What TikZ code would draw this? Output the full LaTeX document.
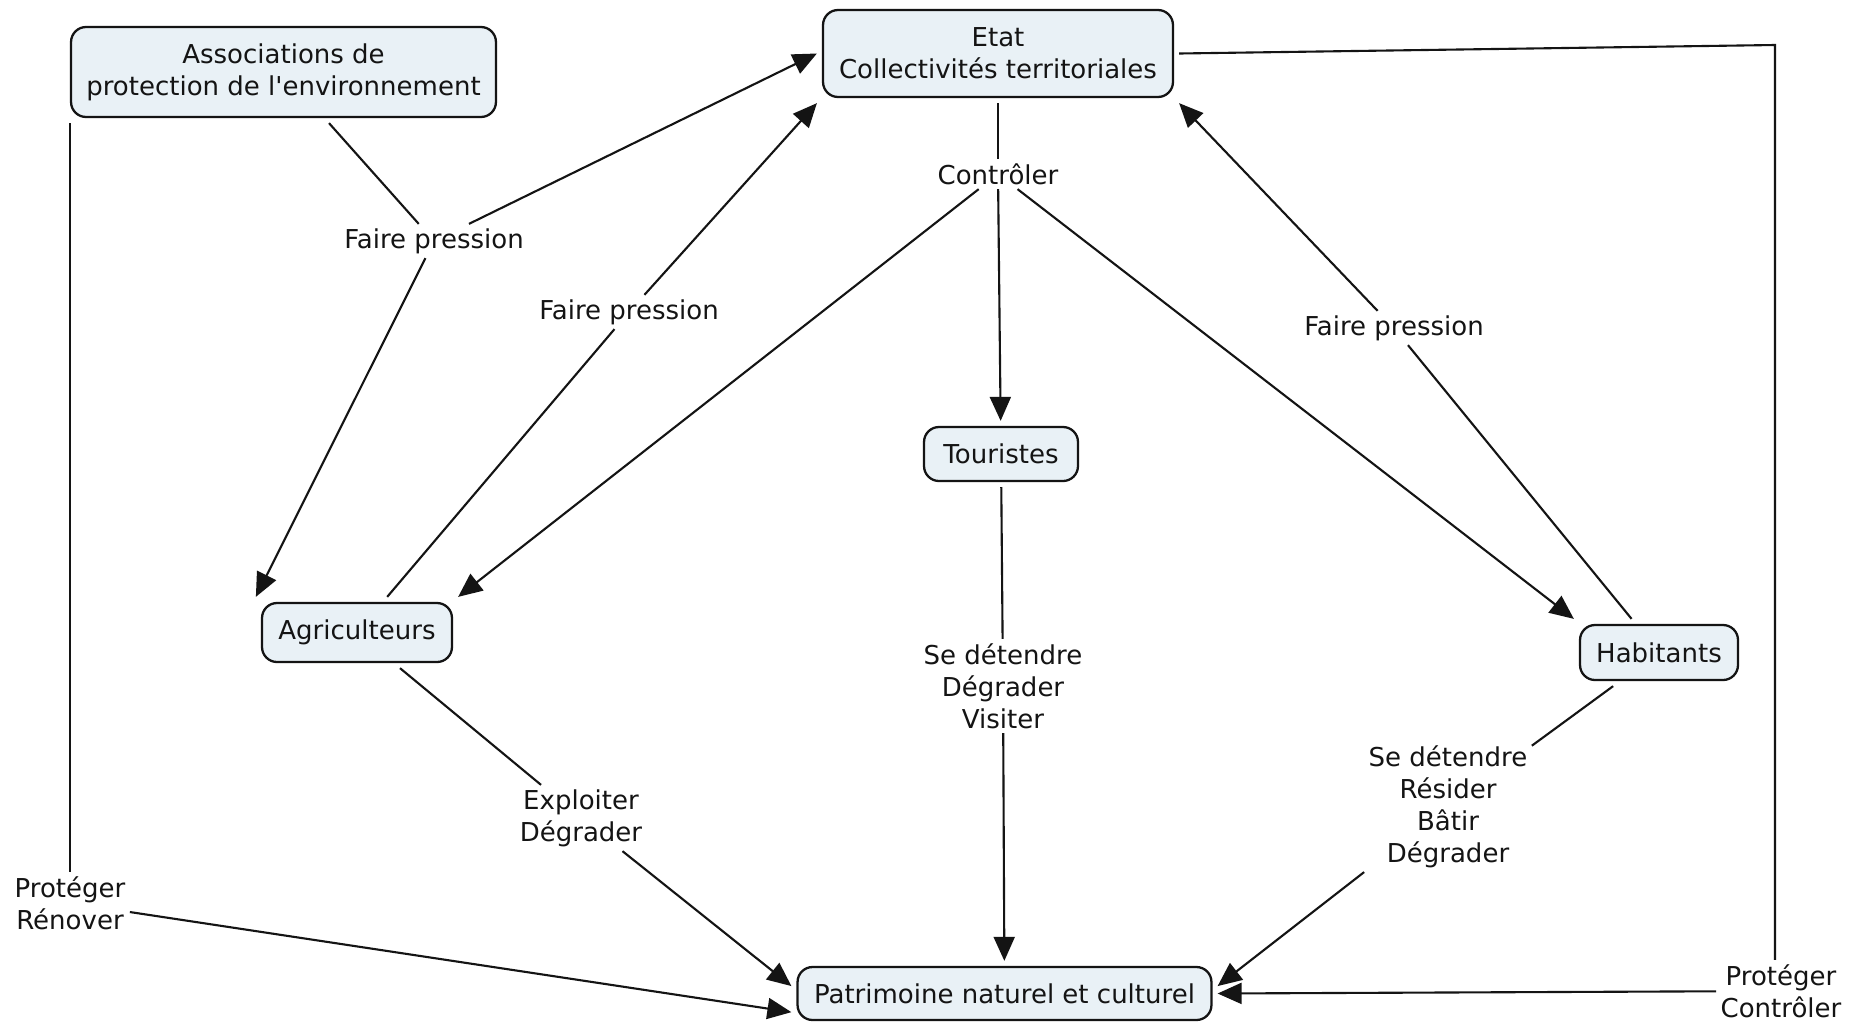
\documentclass[tikz,border=0pt]{standalone}
\definecolor{ConceptFill}{RGB}{233, 241, 246}
\definecolor{LineBlack}{RGB}{20, 20, 20}
\usepackage{fontspec}
\setmainfont{DejaVu Sans}
\usepackage{tikz}
\usetikzlibrary{arrows.meta, positioning}

\begin{document}
\begin{tikzpicture}[x=0.02cm, y=-0.02cm, >={Triangle[length=0.48cm, width=0.42cm]},
    every node/.style={font=\fontsize{14.8}{18.2}\selectfont, text=LineBlack},
    concept/.style={draw=LineBlack, line width=1.3pt, rounded corners=0.3cm, fill=ConceptFill, align=center, outer sep=3.5pt},
    linkphrase/.style={align=center, inner sep=2pt},
    every path/.style={line width=1.2pt, draw=LineBlack}]
    \useasboundingbox[fill=white, draw=none] (0,0) rectangle (1856,1022);
    \node[concept, minimum width=8.5cm, minimum height=1.8cm] (assoc) at (283.5,72) {Associations de\\protection de l\textquotesingle environnement};
    \node[concept, minimum width=7.0cm, minimum height=1.74cm] (etat) at (998,53.5) {Etat\\Collectivités territoriales};
    \node[concept, minimum width=3.08cm, minimum height=1.08cm] (tour) at (1001,454) {Touristes};
    \node[concept, minimum width=3.8cm, minimum height=1.18cm] (agri) at (357,632.5) {Agriculteurs};
    \node[concept, minimum width=3.16cm, minimum height=1.1cm] (hab) at (1659,652.5) {Habitants};
    \node[concept, minimum width=8.28cm, minimum height=1.06cm] (patri) at (1004.5,993.5) {Patrimoine naturel et culturel};
    \node[linkphrase] (fp1) at (434,241) {Faire pression};
    \node[linkphrase] (fp2) at (629,312) {Faire pression};
    \node[linkphrase] (ctrl) at (998,174) {Contrôler};
    \node[linkphrase] (fp3) at (1394,328) {Faire pression};
    \node[linkphrase] (tvisit) at (1003,686) {Se détendre\\Dégrader\\Visiter};
    \node[linkphrase] (exploit) at (581,818) {Exploiter\\Dégrader};
    \node[linkphrase] (hbatir) at (1448,807) {Se détendre\\Résider\\Bâtir\\Dégrader};
    \node[linkphrase] (protren) at (70,903) {Protéger\\Rénover};
    \node[linkphrase] (protcon) at (1781,991) {Protéger\\Contrôler};
    \coordinate (bend) at (1775,45);
    \draw (assoc) -- (fp1);
    \draw[->] (fp1) -- (etat.west);
    \draw[->] (fp1) -- (agri.north west);
    \draw (agri) -- (fp2);
    \draw[->] (fp2) -- (etat.south west);
    \draw (etat) -- (ctrl);
    \draw[->] (ctrl) -- (tour);
    \draw[->] (ctrl) -- (agri.north east);
    \draw[->] (ctrl) -- (hab.north west);
    \draw (hab) -- (fp3);
    \draw[->] (fp3) -- (etat.south east);
    \draw (tour) -- (tvisit);
    \draw[->] (tvisit) -- (patri);
    \draw (agri) -- (exploit);
    \draw[->] (exploit) -- (patri.178);
    \draw (hab) -- (hbatir);
    \draw[->] (hbatir) -- (patri.2);
    \draw (protren.north |- assoc.south) -- (protren);
    \draw[->] (protren) -- (patri.185);
    \draw (etat.east) -- (bend) -- (bend |- protcon.north);
    \draw[->] (protcon) -- (patri.east);
\end{tikzpicture}
\end{document}
